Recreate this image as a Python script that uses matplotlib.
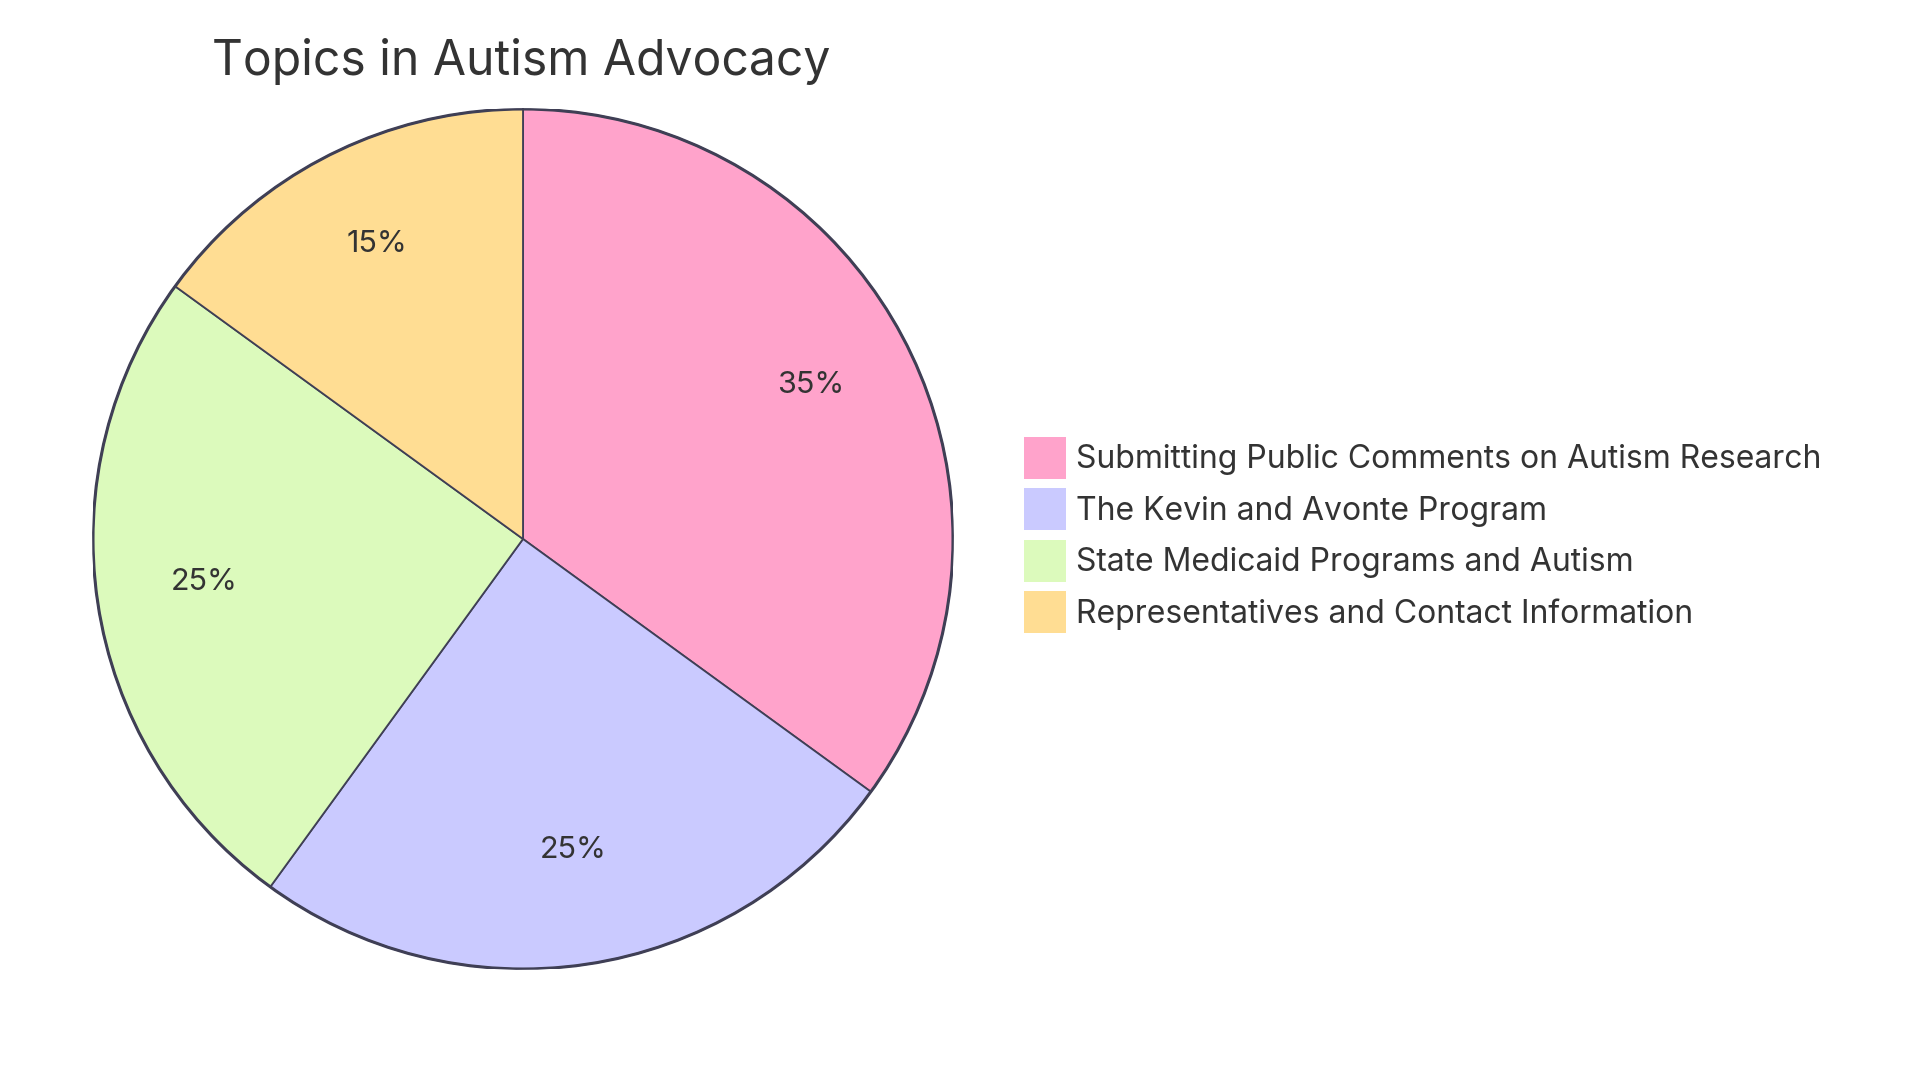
import matplotlib.pyplot as plt
from matplotlib.patches import Patch, Circle

plt.rcParams['font.family'] = ['Inter', 'DejaVu Sans']

title = "Topics in Autism Advocacy"
topics = ["Submitting Public Comments on Autism Research",
          "The Kevin and Avonte Program",
          "State Medicaid Programs and Autism",
          "Representatives and Contact Information"]
shares = [35, 25, 25, 15]
colors = ["#FFA3CB", "#CACAFF", "#DCFABC", "#FFDD93"]

edge = "#3F3F55"
txt = "#333333"

fig = plt.figure(figsize=(19.2, 10.8), dpi=100)
# pie centre ~ (523, 539) px, radius ~430 px
R = 430
ax = fig.add_axes([(523 - R)/1920, 1 - (539 + R)/1080, 2*R/1920, 2*R/1080])
wedges, texts, autotexts = ax.pie(
    shares, colors=colors, startangle=90, counterclock=False,
    autopct=lambda p: f"{p:.0f}%", pctdistance=0.75,
    wedgeprops=dict(edgecolor=edge, linewidth=1.3),
    textprops=dict(fontsize=22, color=txt))
# labels sit a touch higher in the original
for t in autotexts:
    x, y = t.get_position()
    t.set_position((x, y + 0.018))
ax.add_patch(Circle((0, 0), 1, fill=False, edgecolor=edge, linewidth=2.2))
ax.set_xlim(-1, 1)
ax.set_ylim(-1, 1)
ax.set_aspect('equal')
ax.axis('off')

fig.text(521/1920, 1 - 62/1080, title, fontsize=34.6, color=txt,
         ha='center', va='center')

handles = [Patch(facecolor=c, edgecolor='none') for c in colors]
fig.legend(handles, topics, loc='center left',
           bbox_to_anchor=(995/1920, 1 - 535/1080),
           frameon=False, fontsize=23, handlelength=1.32, handleheight=1.64,
           handletextpad=0.3, labelspacing=0.3, labelcolor=txt)

fig.savefig("out.png", dpi=100, facecolor='white')
